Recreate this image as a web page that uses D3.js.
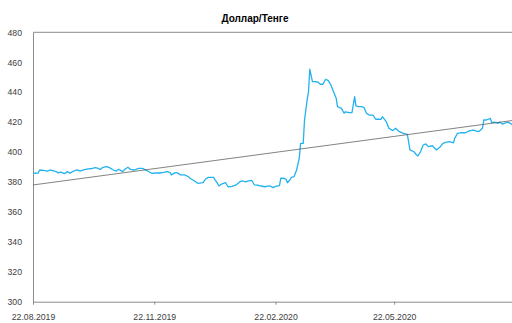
<!DOCTYPE html>
<html>
<head>
<meta charset="utf-8">
<script src="https://cdn.jsdelivr.net/npm/d3@7"></script>
<style>
  html, body { margin: 0; padding: 0; background: #fff; }
  svg { display: block; }
  text { font-family: "Liberation Sans", Arial, sans-serif; fill: #404040; }
</style>
</head>
<body>
<svg id="chart" width="512" height="323"></svg>
<script>
// USD/KZT daily closing rate
const dates = [
  "2019-08-22","2019-08-26","2019-08-27","2019-08-30","2019-09-02","2019-09-04","2019-09-06","2019-09-09",
  "2019-09-10","2019-09-12","2019-09-15","2019-09-17","2019-09-19","2019-09-21","2019-09-24","2019-09-27",
  "2019-09-30","2019-10-03","2019-10-06","2019-10-08","2019-10-10","2019-10-12","2019-10-14","2019-10-17",
  "2019-10-19","2019-10-22","2019-10-24","2019-10-26","2019-10-29","2019-10-31","2019-11-02","2019-11-04",
  "2019-11-07","2019-11-10","2019-11-13","2019-11-15","2019-11-18","2019-11-20","2019-11-23","2019-11-26",
  "2019-11-29","2019-12-02","2019-12-04","2019-12-05","2019-12-08","2019-12-09","2019-12-12","2019-12-15",
  "2019-12-18","2019-12-19","2019-12-22","2019-12-25","2019-12-29","2019-12-31","2020-01-02","2020-01-06",
  "2020-01-07","2020-01-09","2020-01-10","2020-01-12","2020-01-15","2020-01-17","2020-01-20","2020-01-23",
  "2020-01-26","2020-01-28","2020-01-30","2020-02-01","2020-02-04","2020-02-06","2020-02-09","2020-02-11",
  "2020-02-14","2020-02-16","2020-02-18","2020-02-20","2020-02-22","2020-02-25","2020-02-26","2020-02-28",
  "2020-03-01","2020-03-02","2020-03-04","2020-03-05","2020-03-07","2020-03-09","2020-03-10","2020-03-11",
  "2020-03-12","2020-03-14","2020-03-15","2020-03-17","2020-03-18","2020-03-19","2020-03-21","2020-03-23",
  "2020-03-25","2020-03-27","2020-03-29","2020-03-31","2020-04-02","2020-04-04","2020-04-06","2020-04-08",
  "2020-04-09","2020-04-12","2020-04-14","2020-04-15","2020-04-18","2020-04-20","2020-04-22","2020-04-23",
  "2020-04-25","2020-04-27","2020-04-29","2020-05-01","2020-05-03","2020-05-06","2020-05-08","2020-05-10",
  "2020-05-12","2020-05-13","2020-05-16","2020-05-18","2020-05-21","2020-05-23","2020-05-26","2020-05-29",
  "2020-06-01","2020-06-03","2020-06-06","2020-06-08","2020-06-09","2020-06-11","2020-06-13","2020-06-15",
  "2020-06-17","2020-06-20","2020-06-23","2020-06-26","2020-06-28","2020-06-30","2020-07-03","2020-07-06",
  "2020-07-07","2020-07-09","2020-07-12","2020-07-15","2020-07-18","2020-07-21","2020-07-23","2020-07-25",
  "2020-07-28","2020-07-29","2020-07-31","2020-08-03","2020-08-04","2020-08-06","2020-08-09","2020-08-10",
  "2020-08-12","2020-08-15","2020-08-16","2020-08-18","2020-08-20"
];
const rates = [
  385.8,386.0,388.0,387.8,387.2,388.0,387.6,386.8,
  386.0,386.6,385.6,386.9,385.8,386.9,388.0,387.4,
  388.2,388.8,389.0,389.6,389.2,388.3,389.8,390.2,
  389.6,388.0,387.2,388.5,386.9,388.7,389.8,388.4,
  388.0,389.1,389.1,388.2,386.8,385.8,386.0,386.0,
  386.4,386.9,386.2,384.7,386.2,386.2,384.7,384.7,
  383.5,382.5,381.0,379.1,379.5,382.0,383.1,383.1,
  381.5,379.0,377.3,378.6,379.5,376.8,377.0,378.0,
  380.2,380.8,380.0,380.6,381.0,378.0,377.8,377.3,
  376.8,377.2,377.3,376.2,377.0,377.5,382.5,382.5,
  381.8,379.5,381.5,383.0,383.5,388.0,392.0,395.8,
  405.8,405.8,421.4,434.8,440.3,455.3,447.0,447.0,
  446.8,445.3,445.3,448.6,447.7,444.8,440.3,436.0,
  430.3,429.2,425.9,426.9,426.3,426.3,437.0,430.8,
  430.3,430.3,429.9,425.9,424.7,424.7,421.9,421.9,
  421.9,423.6,420.3,415.9,414.3,415.9,413.6,412.5,
  411.8,401.4,400.2,398.0,397.4,400.2,404.7,405.4,
  403.6,404.2,401.4,403.6,405.8,406.5,406.9,406.2,
  409.2,412.5,412.9,412.9,414.1,414.7,414.1,413.6,
  415.9,421.4,421.4,422.5,419.6,420.0,419.2,420.0,
  418.7,419.6,420.0,419.2,418.1
];
// Linear trend line end values
const trendDates = ["2019-08-22", "2020-08-20"];
const trendValues = [378.0, 421.1];

const yTicks = [300, 320, 340, 360, 380, 400, 420, 440, 460, 480];
const xTickLabels = ["2019-08-22", "2019-11-22", "2020-02-22", "2020-05-22"];
const chartTitle = "Доллар/Тенге";

const parse = d3.utcParse("%Y-%m-%d");
const fmt = d3.utcFormat("%d.%m.%Y");
const series = dates.map((d, i) => ({ date: parse(d), value: rates[i] }));
const trend = trendDates.map((d, i) => ({ date: parse(d), value: trendValues[i] }));

const svg = d3.select("#chart");
const plotLeft = 33, plotRight = 512.8, plotTop = 32.3, plotBottom = 301.7;

const x = d3.scaleUtc()
  .domain([parse("2019-08-22"), parse("2020-08-20")])
  .range([plotLeft, plotRight]);
const y = d3.scaleLinear().domain([300, 480]).range([plotBottom, plotTop]);

// Title
svg.append("text")
  .attr("x", 255).attr("y", 22)
  .attr("text-anchor", "middle")
  .style("font-size", "10px").style("font-weight", "bold").style("fill", "#000")
  .text(chartTitle);

// Top border of the plot area
svg.append("line")
  .attr("x1", plotLeft).attr("x2", 512)
  .attr("y1", y(480)).attr("y2", y(480))
  .attr("stroke", "#8c8c8c").attr("stroke-width", 1);

// Y axis
const yAxis = d3.axisLeft(y).tickValues(yTicks).tickSize(0).tickPadding(11);
const gy = svg.append("g").attr("transform", `translate(${plotLeft},0)`).call(yAxis);
gy.select(".domain").attr("stroke", "#8c8c8c");
gy.selectAll("text").style("font-size", "8.7px").style("fill", "#404040")
  .style("font-family", "'Liberation Sans', Arial, sans-serif");

// X axis
const xAxis = d3.axisBottom(x)
  .tickValues(xTickLabels.map(parse))
  .tickFormat(fmt)
  .tickSizeInner(3).tickSizeOuter(0).tickPadding(9);
const gx = svg.append("g").attr("transform", `translate(0,${plotBottom})`).call(xAxis);
gx.select(".domain").attr("stroke", "#8c8c8c");
gx.selectAll(".tick line").attr("stroke", "#8c8c8c");
gx.selectAll("text").style("font-size", "8.7px").style("fill", "#404040")
  .style("font-family", "'Liberation Sans', Arial, sans-serif");

const plot = svg.append("g");

// Rate line
plot.append("path")
  .datum(series)
  .attr("fill", "none")
  .attr("stroke", "#22b2ee")
  .attr("stroke-width", 1.3)
  .attr("stroke-linejoin", "round")
  .attr("d", d3.line().x(d => x(d.date)).y(d => y(d.value)));

// Trend line
plot.append("path")
  .datum(trend)
  .attr("fill", "none")
  .attr("stroke", "#5a5a5a")
  .attr("stroke-width", 0.75)
  .attr("d", d3.line().x(d => x(d.date)).y(d => y(d.value)));
</script>
</body>
</html>
